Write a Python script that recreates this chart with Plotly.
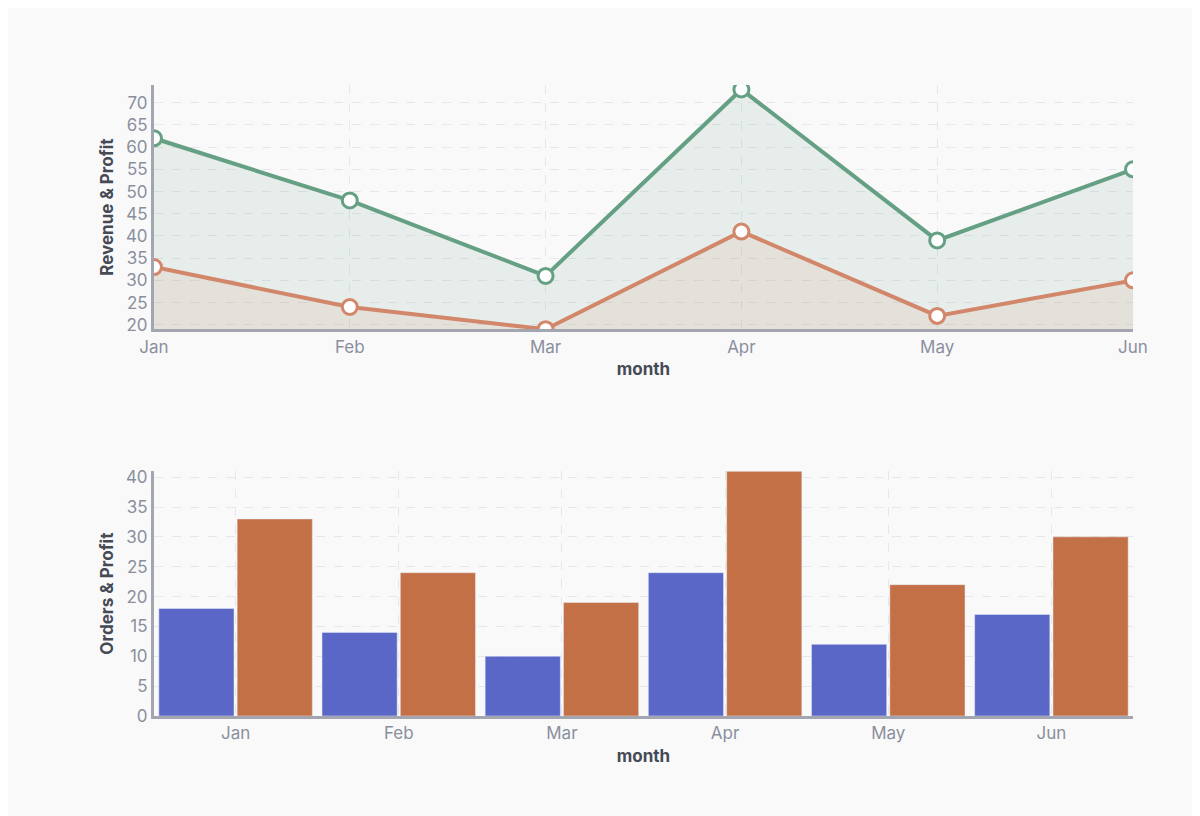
"""Revenue, profit and orders by month as two stacked Plotly charts."""
from __future__ import annotations

import plotly.graph_objects as go
from plotly.subplots import make_subplots

months = ["Jan", "Feb", "Mar", "Apr", "May", "Jun"]
revenue = [62, 48, 31, 73, 39, 55]
profit = [33, 24, 19, 41, 22, 30]
orders = [18, 14, 10, 24, 12, 17]

GREEN = "#66a084"
ORANGE = "#d2876a"
BLUE = "#5b67c7"
BAR_ORANGE = "#c47047"
TICK = "#8a8f9e"


# ── figure ────────────────────────────────────────────────────────────────────

def build_figure() -> go.Figure:
    fig = make_subplots(rows=2, cols=1)
    marker = dict(size=15, color="white", line=dict(width=3))

    fig.add_trace(
        go.Scatter(
            x=months, y=revenue, name="Revenue", mode="lines+markers",
            line=dict(color=GREEN, width=4),
            marker={**marker, "line": dict(width=3, color=GREEN)},
            fill="tozeroy", fillcolor="rgba(102,160,132,0.12)",
        ),
        row=1, col=1,
    )
    fig.add_trace(
        go.Scatter(
            x=months, y=profit, name="Profit", mode="lines+markers",
            line=dict(color=ORANGE, width=4),
            marker={**marker, "line": dict(width=3, color=ORANGE)},
            fill="tozeroy", fillcolor="rgba(210,135,106,0.12)",
        ),
        row=1, col=1,
    )
    fig.add_trace(go.Bar(x=months, y=orders, name="Orders", marker_color=BLUE), row=2, col=1)
    fig.add_trace(go.Bar(x=months, y=profit, name="Profit", marker_color=BAR_ORANGE), row=2, col=1)

    axis = dict(
        showline=True, linecolor="#a3a6b1", linewidth=3,
        showgrid=True, gridcolor="#e6e7ea", griddash="dash",
        tickfont=dict(size=17, color=TICK), zeroline=False, ticks="",
    )
    title_font = dict(size=17, color="#454a55", family="Inter")

    fig.update_xaxes(**axis, range=[0, 5], domain=[0, 1], row=1, col=1)
    fig.update_xaxes(**axis, range=[-0.5, 5.5], domain=[0, 1], row=2, col=1)
    fig.update_xaxes(title=dict(text="<b>month</b>", font=title_font, standoff=8))
    fig.update_yaxes(**axis, range=[19, 74], dtick=5, domain=[0.613, 1.0], row=1, col=1)
    fig.update_yaxes(**axis, range=[0, 41], dtick=5, domain=[0, 0.388], row=2, col=1)
    fig.update_yaxes(title=dict(text="<b>Revenue & Profit</b>", font=title_font, standoff=8), row=1, col=1)
    fig.update_yaxes(title=dict(text="<b>Orders & Profit</b>", font=title_font, standoff=8), row=2, col=1)

    fig.update_layout(
        width=1200, height=816,
        margin=dict(l=146, r=75, t=77, b=108),
        paper_bgcolor="#f9f9f9", plot_bgcolor="#f9f9f9",
        font=dict(family="Inter, Roboto, sans-serif"),
        showlegend=False, barmode="group", bargap=0.04, bargroupgap=0.04,
    )
    return fig


fig = build_figure()
fig.write_html("out.html")
